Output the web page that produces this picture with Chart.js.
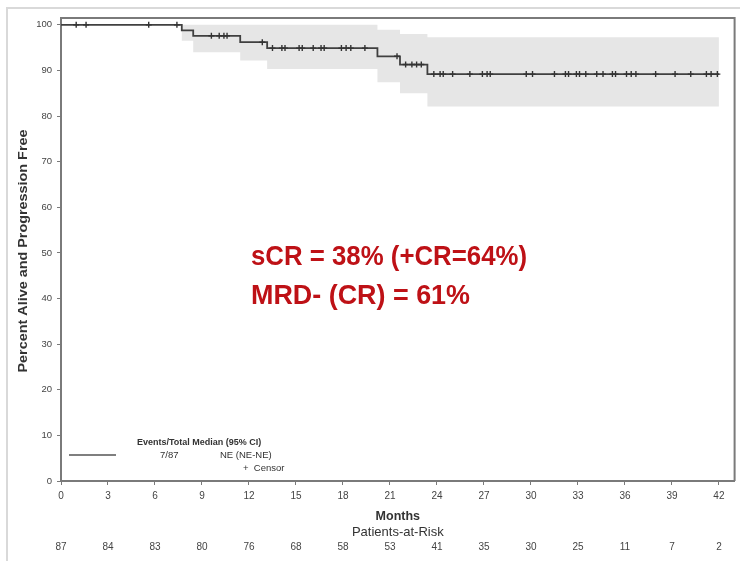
<!DOCTYPE html>
<html>
<head>
<meta charset="utf-8">
<script src="https://cdn.jsdelivr.net/npm/chart.js@4.4.0/dist/chart.umd.min.js"></script>
<style>
html,body{margin:0;padding:0;background:#fff;}
#wrap{position:relative;width:740px;height:561px;}
</style>
</head>
<body>
<div id="wrap"><canvas id="c" width="740" height="561"></canvas></div>
<script>
// ---- data ----
const monthTicks = [0,3,6,9,12,15,18,21,24,27,30,33,36,39,42];
const atRisk = [87,84,83,80,76,68,58,53,41,35,30,25,11,7,2];
const yTicks = [0,10,20,30,40,50,60,70,80,90,100];

const kmTime = [0, 7.71, 8.44, 11.44, 13.16, 20.2, 21.64, 23.39, 42];
const kmSurv = [100, 98.8, 97.6, 96.2, 94.9, 93.1, 91.3, 89.2, 89.2];

const ciTime  = [0, 7.71, 8.44, 11.44, 13.16, 20.2, 21.64, 23.39, 42];
const ciUpper = [100, 100, 100, 100, 100, 98.9, 98.0, 97.3, 97.3];
const ciLower = [100, 96.5, 94.0, 92.2, 90.3, 87.4, 85.0, 82.1, 82.1];

const censorTimes = [0.97,1.6,5.6,7.4,9.6,10.1,10.4,10.6,12.85,13.5,14.1,14.3,15.2,15.4,16.1,16.6,16.8,17.9,18.2,18.5,19.4,21.45,22.0,22.4,22.7,23.0,23.8,24.2,24.4,25.0,26.1,26.9,27.2,27.4,29.7,30.1,31.5,32.2,32.4,32.9,33.1,33.5,34.2,34.6,35.2,35.4,36.1,36.4,36.7,37.96,39.2,40.2,41.2,41.5,41.9];

const titleY = 'Percent Alive and Progression Free';
const titleX = 'Months';
const riskTitle = 'Patients-at-Risk';
const legendHeader = 'Events/Total Median (95% CI)';
const legendEvents = '7/87';
const legendMedian = 'NE (NE-NE)';
const legendCensor = '+  Censor';
const noteLines = ['sCR = 38% (+CR=64%)', 'MRD- (CR) = 61%'];

// ---- helpers ----
function pts(t, v){ return t.map((x,i)=>({x:x, y:v[i]})); }
function survAt(t){
  let s = kmSurv[0];
  for (let i=0;i<kmTime.length;i++){ if (kmTime[i] <= t) s = kmSurv[i]; }
  return s;
}
const censorPts = censorTimes.map(t=>({x:t, y:survAt(t)}));

const FONT = "'Liberation Sans', Arial, sans-serif";
const AX = '#7a7a7a';

const extras = {
  id:'extras',
  afterDraw(chart){
    const ctx = chart.ctx, ca = chart.chartArea;
    const xs = chart.scales.x;
    ctx.save();
    // page border (slide crop)
    ctx.strokeStyle = '#d9d9d9'; ctx.lineWidth = 2;
    ctx.beginPath(); ctx.moveTo(7, 561); ctx.lineTo(7, 8); ctx.lineTo(740, 8); ctx.stroke();
    // frame top & right
    ctx.strokeStyle = AX; ctx.lineWidth = 2;
    ctx.beginPath(); ctx.moveTo(ca.left, ca.top); ctx.lineTo(ca.right, ca.top); ctx.lineTo(ca.right, ca.bottom); ctx.stroke();

    // y title (stretched to the reference length)
    ctx.fillStyle = '#333';
    ctx.font = 'bold 12px ' + FONT;
    ctx.textAlign = 'center'; ctx.textBaseline = 'middle';
    const w = ctx.measureText(titleY).width;
    ctx.save(); ctx.translate(24, 251); ctx.rotate(-Math.PI/2); ctx.scale(243 / w, 1);
    ctx.fillText(titleY, 0, 0);
    ctx.restore();

    // x title & risk table
    const cx = (ca.left + ca.right)/2;
    ctx.font = 'bold 12.5px ' + FONT; ctx.fillStyle = '#333';
    ctx.fillText(titleX, cx, 517);
    ctx.font = '13px ' + FONT;
    ctx.fillText(riskTitle, cx, 532);
    ctx.font = '10px ' + FONT; ctx.fillStyle = '#444';
    monthTicks.forEach((m,i)=>{ ctx.fillText(String(atRisk[i]), xs.getPixelForValue(m), 547); });

    // legend
    ctx.strokeStyle = '#555'; ctx.lineWidth = 1.5;
    ctx.beginPath(); ctx.moveTo(69, 455); ctx.lineTo(116, 455); ctx.stroke();
    ctx.fillStyle = '#333';
    ctx.textAlign = 'left';
    ctx.font = 'bold 9px ' + FONT;
    ctx.fillText(legendHeader, 137, 443, 157);
    ctx.font = '9.5px ' + FONT;
    ctx.fillText(legendEvents, 160, 455);
    ctx.fillText(legendMedian, 220, 455, 61);
    ctx.fillText(legendCensor, 243, 468, 50);

    // red note
    ctx.fillStyle = '#BE1116';
    ctx.font = 'bold 28px ' + FONT;
    ctx.textBaseline = 'alphabetic';
    ctx.fillText(noteLines[0], 251, 265, 276);
    ctx.fillText(noteLines[1], 251, 304, 219);
    ctx.restore();
  }
};

new Chart(document.getElementById('c'), {
  type:'line',
  data:{
    datasets:[
      {label:'lower', data:pts(ciTime, ciLower), stepped:true, borderWidth:0, borderColor:'rgba(0,0,0,0)', pointRadius:0, fill:false, order:3},
      {label:'upper', data:pts(ciTime, ciUpper), stepped:true, borderWidth:0, borderColor:'rgba(0,0,0,0)', pointRadius:0, fill:'-1', backgroundColor:'#e6e6e6', order:2},
      {label:'KM', data:pts(kmTime, kmSurv), stepped:true, borderWidth:1.8, borderColor:'#404040', pointRadius:0, fill:false, order:1},
      {label:'censor', type:'scatter', data:censorPts, showLine:false, pointStyle:'cross', pointRadius:3, borderColor:'#333', borderWidth:1.4, backgroundColor:'#333', order:0}
    ]
  },
  options:{
    responsive:false, animation:false,
    layout:{padding:{top:18, right:4, left:0, bottom:0}},
    plugins:{legend:{display:false}, tooltip:{enabled:false}},
    scales:{
      x:{
        type:'linear', min:0, max:43,
        afterBuildTicks(s){ s.ticks = monthTicks.map(v=>({value:v})); },
        afterFit(s){ s.height = 80; },
        grid:{display:true, drawOnChartArea:false, drawTicks:true, tickLength:4, color:AX, lineWidth:1},
        border:{display:true, color:AX, width:2},
        ticks:{font:{family:FONT, size:10}, color:'#444', padding:5, maxRotation:0, autoSkip:false}
      },
      y:{
        type:'linear', min:0, max:101.5,
        afterBuildTicks(s){ s.ticks = yTicks.map(v=>({value:v})); },
        afterFit(s){ s.width = 61; },
        grid:{display:true, drawOnChartArea:false, drawTicks:true, tickLength:4, color:AX, lineWidth:1},
        border:{display:true, color:AX, width:2},
        ticks:{font:{family:FONT, size:9.5}, color:'#444', padding:5, autoSkip:false}
      }
    }
  },
  plugins:[extras]
});
</script>
</body>
</html>
